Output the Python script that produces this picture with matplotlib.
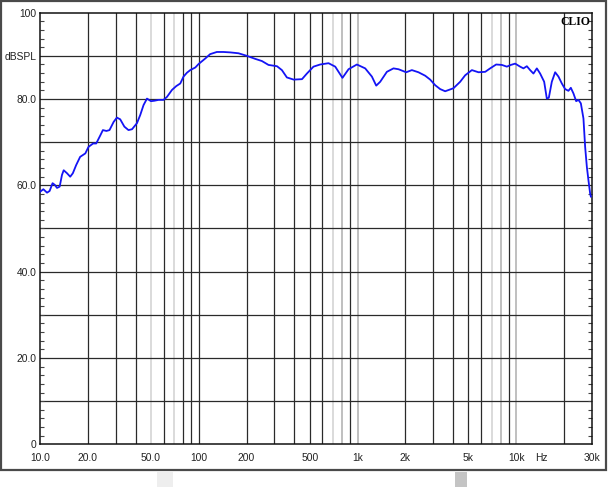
import matplotlib
matplotlib.use('Agg')
import matplotlib.pyplot as plt
from matplotlib.patches import Rectangle
from matplotlib.ticker import MultipleLocator, NullLocator

plt.rcParams['font.family'] = ['Liberation Sans', 'DejaVu Sans']

# frequency response
freq_hz = [10.0, 10.5, 11.07, 11.5, 12.0, 12.4, 12.8, 13.3, 13.75, 14.1, 14.8, 15.5,
           16.1, 16.9, 17.9, 19.3, 20.2, 21.6, 22.6, 24.0, 24.9, 26.2, 27.4, 29.1,
           30.5, 32.0, 34.0, 36.1, 38.0, 40.8, 42.8, 44.9, 47.2, 50.0, 52.5, 55.8,
           60.0, 63.1, 67.8, 72.2, 76.5, 80.2, 84.3, 88.4, 95.1, 99.7,
           110, 118, 130, 143, 158, 178, 201, 227, 250, 275, 311, 334, 359, 396,
           447, 480, 528, 582, 657, 724, 804, 878, 991, 1118, 1232, 1312, 1390,
           1531, 1685, 1813, 2026, 2200, 2421, 2669, 2869, 3086, 3317, 3566, 4023,
           4434, 4767, 5253, 5781, 6372, 6848, 7472, 8116, 8727, 9247, 9842,
           10580, 11100, 11660, 12230, 12830, 13480, 14140, 14990, 15580, 16040,
           16750, 17580, 18440, 19370, 20320, 21310, 22070, 22920, 23840, 24650,
           25520, 26500, 27160, 27840, 28490, 29200, 29500]
spl_db = [58.5, 59.1, 58.3, 58.7, 60.5, 60.1, 59.4, 59.7, 62.4, 63.5, 62.8, 62.0,
          62.8, 64.7, 66.6, 67.4, 68.9, 69.7, 69.7, 71.6, 72.8, 72.6, 72.8, 74.7,
          75.7, 75.3, 73.6, 72.8, 73.0, 74.4, 76.3, 78.6, 80.1, 79.5, 79.6, 79.8,
          79.8, 80.5, 82.1, 83.0, 83.6, 85.2, 86.1, 86.7, 87.3, 88.1,
          89.4, 90.4, 90.9, 90.9, 90.8, 90.6, 90.0, 89.3, 88.8, 87.9, 87.6, 86.7, 85.0, 84.5,
          84.6, 85.9, 87.5, 88.0, 88.3, 87.5, 84.9, 86.9, 88.0, 87.1, 85.2, 83.1, 84.0,
          86.3, 87.1, 86.9, 86.2, 86.7, 86.2, 85.4, 84.5, 83.2, 82.3, 81.8, 82.5,
          84.0, 85.5, 86.7, 86.2, 86.3, 87.1, 88.0, 87.9, 87.5, 87.9, 88.2,
          87.5, 87.1, 87.6, 86.7, 85.9, 87.1, 85.9, 84.0, 80.1, 80.3,
          84.0, 86.2, 85.2, 83.6, 82.3, 81.9, 82.6, 81.3, 79.5, 79.8,
          79.0, 75.5, 68.9, 64.3, 61.2, 58.1, 57.4]

x_ticks = [10, 20, 50, 100, 200, 500, 1000, 2000, 5000, 10000, 30000]
x_labels = ['10.0', '20.0', '50.0', '100', '200', '500', '1k', '2k', '5k', '10k', '30k']
y_ticks = [0, 20, 40, 60, 80, 90, 100]
y_labels = ['0', '20.0', '40.0', '60.0', '80.0', 'dBSPL', '100']

W, H = 609, 487
FS = 7.4


def px(x0, y0, x1, y1):
    # pixel box (top-left origin) -> figure fraction rect
    return [x0 / W, 1 - y1 / H, (x1 - x0) / W, (y1 - y0) / H]


fig = plt.figure(figsize=(W / 100, H / 100), dpi=100)
fig.patch.set_facecolor('white')

# screenshot frame and bits below it
fig.add_artist(Rectangle((1 / W, 1 - 470 / H), 604.5 / W, 469 / H, transform=fig.transFigure,
                         fill=False, ec='#4a4a4a', lw=1.6))
fig.add_artist(Rectangle((157 / W, 0), 16 / W, 15 / H, transform=fig.transFigure,
                         fc='#eeeeee', ec='none'))
fig.add_artist(Rectangle((455 / W, 0), 12 / W, 15 / H, transform=fig.transFigure,
                         fc='#c4c4c4', ec='none'))

ax = fig.add_axes(px(40, 12.7, 592, 444.3))
ax.set_xscale('log')
ax.set_xlim(10, 30000)
ax.set_ylim(0, 100)

# vertical grid: the CLIO render shows some lines darker than others
dark = [20, 30, 40, 60, 80, 90, 100, 200, 300, 400, 500, 600, 900,
        2000, 3000, 4000, 5000, 6000, 9000, 20000]
light = [50, 70, 700, 7000]
mid = [800, 1000, 8000, 10000]
for f in dark:
    ax.axvline(f, color='#2a2a2a', lw=0.9, zorder=1)
for f in mid:
    ax.axvline(f, color='#b4b4b4', lw=1.2, zorder=1)
for f in light:
    ax.axvline(f, color='#d4d4d4', lw=1.2, zorder=1)
for v in range(10, 100, 10):
    ax.axhline(v, color='#2a2a2a', lw=0.9, zorder=1)

ax.plot(freq_hz, spl_db, color='#1414f5', lw=1.3, zorder=3)

ax.xaxis.set_minor_locator(NullLocator())
ax.set_xticks(x_ticks)
ax.set_xticklabels(x_labels)
ax.set_yticks(y_ticks)
ax.set_yticklabels(y_labels)
ax.yaxis.set_minor_locator(MultipleLocator(2))
ax.tick_params(which='major', length=0, labelsize=FS, labelcolor='#222222')
ax.tick_params(axis='x', which='major', pad=6.5)
ax.tick_params(axis='y', which='major', pad=2.3)
ax.tick_params(axis='y', which='minor', direction='in', length=3, width=0.8,
               color='#444444', left=True, right=True)

ax.annotate('Hz', xy=(14500, 0), xycoords=('data', 'axes fraction'),
            xytext=(0, -6.5), textcoords='offset points',
            fontsize=FS, color='#222222', ha='center', va='top')
ax.text(0.997, 0.993, 'CLIO', transform=ax.transAxes, ha='right', va='top',
        fontsize=8.5, fontweight='bold', family=['Liberation Serif', 'DejaVu Serif'])

for s in ax.spines.values():
    s.set_color('#111111')
    s.set_linewidth(1.1)

plt.savefig('out.png', dpi=100)
